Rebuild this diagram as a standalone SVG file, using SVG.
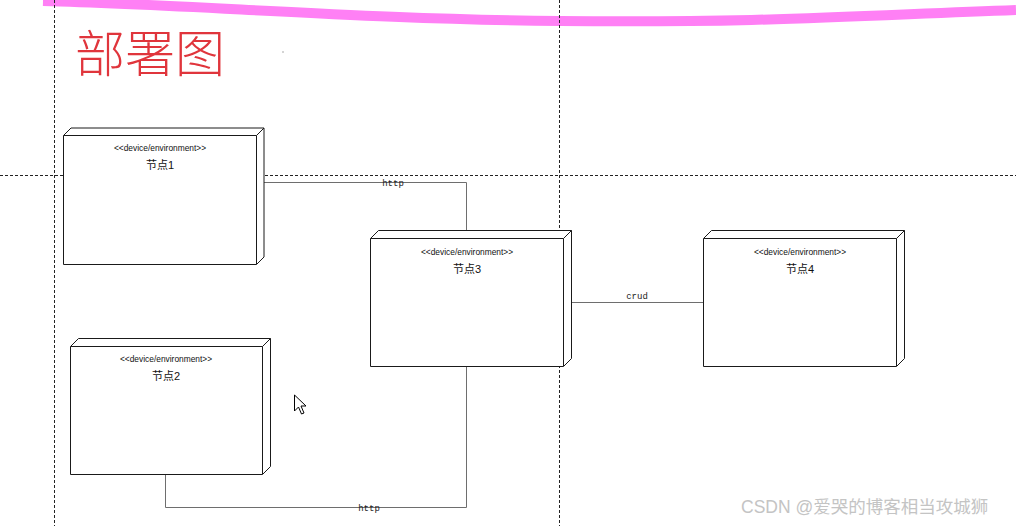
<svg xmlns="http://www.w3.org/2000/svg" width="1016" height="526" viewBox="0 0 1016 526">
<style>
.grid{stroke:#222;stroke-width:1;stroke-dasharray:3 2;fill:none}
.node{fill:#fff;stroke:#1a1a1a;stroke-width:1}
.edge{fill:none;stroke:#6e6e6e;stroke-width:1}
.st{font-family:"Liberation Sans","DejaVu Sans",sans-serif;font-size:8.4px;fill:#111;text-anchor:middle}
.nm{font-family:"Liberation Sans","Noto Sans CJK SC",sans-serif;font-size:11px;fill:#111;text-anchor:middle}
.lbl{font-family:"Liberation Mono",monospace;font-size:9px;fill:#222;text-anchor:middle}
</style>
<rect width="1016" height="526" fill="#fff"/>
<path d="M43,1 C200,5 360,19 560,21 S850,16 1016,10" fill="none" stroke="#ff80f5" stroke-width="10"/>
<g id="grid">
<line class="grid" x1="54.5" y1="0" x2="54.5" y2="526"/>
<line class="grid" x1="559.5" y1="0" x2="559.5" y2="526"/>
<line class="grid" x1="0" y1="175.5" x2="1016" y2="175.5"/>
</g>
<text x="75" y="72" font-family="'Noto Sans CJK SC',sans-serif" font-size="50" font-weight="200" fill="#e0353c">部署图</text>
<circle cx="283" cy="52" r="0.7" fill="#888"/>
<g id="connectors">
<path class="edge" d="M264,182.5 H466.5 V230.5"/>
<path class="edge" d="M466.5,366.5 V507.5 H165.5 V474.5"/>
<path class="edge" d="M571.5,302.5 H703.5"/>
<text class="lbl" x="393" y="186">http</text>
<text class="lbl" x="369" y="511">http</text>
<text class="lbl" x="637" y="298.5">crud</text>
</g>
<g id="node1">
<path class="node" d="M63.5,135.5 L71,128 H264 V257 L256.5,264.5 H63.5 Z"/>
<path class="node" d="M63.5,135.5 H256.5 V264.5 M256.5,135.5 L264,128"/>
<text class="st" x="160" y="151">&lt;&lt;device/environment&gt;&gt;</text>
<text class="nm" x="160" y="169">节点1</text>
</g>
<g id="node2">
<path class="node" d="M70.5,346.5 L78.5,338.5 H270.5 V466.5 L262.5,474.5 H70.5 Z"/>
<path class="node" d="M70.5,346.5 H262.5 V474.5 M262.5,346.5 L270.5,338.5"/>
<text class="st" x="166" y="362">&lt;&lt;device/environment&gt;&gt;</text>
<text class="nm" x="166" y="380">节点2</text>
</g>
<g id="node3">
<path class="node" d="M370.5,238.5 L378.5,230.5 H571.5 V358.5 L563.5,366.5 H370.5 Z"/>
<path class="node" d="M370.5,238.5 H563.5 V366.5 M563.5,238.5 L571.5,230.5"/>
<text class="st" x="467" y="254.5">&lt;&lt;device/environment&gt;&gt;</text>
<text class="nm" x="467" y="273">节点3</text>
</g>
<g id="node4">
<path class="node" d="M703.5,238.5 L711.5,230.5 H904.5 V358.5 L896.5,366.5 H703.5 Z"/>
<path class="node" d="M703.5,238.5 H896.5 V366.5 M896.5,238.5 L904.5,230.5"/>
<text class="st" x="800" y="254.5">&lt;&lt;device/environment&gt;&gt;</text>
<text class="nm" x="800" y="273">节点4</text>
</g>
<path d="M294.5,395 V411 L298.5,407 L301.5,414 L304,413 L301,406 L306,406 Z" fill="#fff" stroke="#000" stroke-width="1" stroke-linejoin="round"/>
<text x="741" y="513" font-family="'Liberation Sans','Noto Sans CJK SC',sans-serif" font-size="17.5" fill="#c4c4c4">CSDN @爱哭的博客相当攻城狮</text>
</svg>
